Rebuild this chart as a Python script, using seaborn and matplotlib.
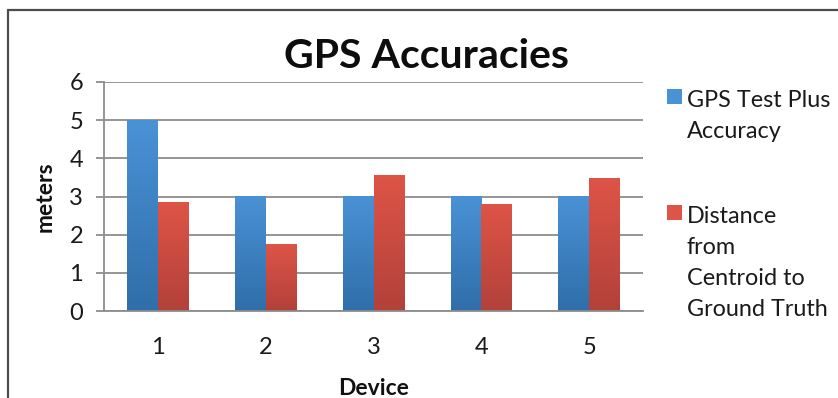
import numpy as np
import pandas as pd
import matplotlib
matplotlib.use("Agg")
import matplotlib.pyplot as plt
from matplotlib.colors import LinearSegmentedColormap
from matplotlib.patches import Rectangle
from matplotlib.lines import Line2D
import seaborn as sns

devices = ["1", "2", "3", "4", "5"]
gps_accuracy = [5, 3, 3, 3, 3]
centroid_distance = [2.83, 1.74, 3.56, 2.80, 3.48]
series_names = ["GPS Test Plus\nAccuracy", "Distance\nfrom\nCentroid to\nGround Truth"]
y_ticks = [0, 1, 2, 3, 4, 5, 6]

df = pd.DataFrame({
    "Device": devices * 2,
    "meters": gps_accuracy + centroid_distance,
    "series": [series_names[0]] * len(devices) + [series_names[1]] * len(devices),
})

sns.set_theme(style="white")
plt.rcParams["font.family"] = ["Lato", "DejaVu Sans"]

GRID = "#8c8c8c"
BLUE_TOP, BLUE_BOT = "#4a92d6", "#2f6ea9"
RED_TOP, RED_BOT = "#de5447", "#b2413a"

fig = plt.figure(figsize=(8.38, 3.98), dpi=100)
ax = fig.add_axes([104 / 838, 1 - 311 / 398, 539 / 838, 229 / 398])

sns.barplot(data=df, x="Device", y="meters", hue="series",
            palette=[BLUE_TOP, RED_TOP], width=0.57, gap=0,
            saturation=1, legend=False, ax=ax, zorder=2)

# vertical gradient fill for each bar (lighter top, darker bottom)
grad = np.linspace(0, 1, 256).reshape(-1, 1)
cmaps = [LinearSegmentedColormap.from_list("b", [BLUE_BOT, BLUE_TOP]),
         LinearSegmentedColormap.from_list("r", [RED_BOT, RED_TOP])]
bars = [p for p in ax.patches if isinstance(p, Rectangle)]
n = len(devices)
for i, bar in enumerate(bars):
    x0, w, h = bar.get_x(), bar.get_width(), bar.get_height()
    if h <= 0:
        continue
    ax.imshow(grad, extent=[x0, x0 + w, 0, h], origin="lower",
              cmap=cmaps[i // n], aspect="auto", zorder=2.5,
              interpolation="bilinear")
    bar.set_facecolor("none")
    bar.set_edgecolor("none")

ax.set_xlim(-0.5, n - 0.5)
ax.set_ylim(0, 6)
ax.set_yticks(y_ticks)
ax.yaxis.grid(True, color=GRID, linewidth=1.3)
ax.set_axisbelow(True)

for s in ["top", "right"]:
    ax.spines[s].set_visible(False)
for s in ["left", "bottom"]:
    ax.spines[s].set_color(GRID)
    ax.spines[s].set_linewidth(1.3)

# category boundaries carry the tick marks; labels sit at category centres
ax.set_xticks(np.arange(-0.5, n, 1.0), minor=True)
ax.tick_params(axis="x", which="minor", length=5.5, width=1.3, color=GRID, direction="out")
ax.tick_params(axis="x", which="major", length=0, pad=19, labelsize=17, labelcolor="#1a1a1a")
ax.tick_params(axis="y", which="major", length=6, width=1.3, color=GRID, direction="out",
               pad=9, labelsize=17, labelcolor="#1a1a1a")
ax.tick_params(left=True, bottom=True)

ax.set_xlabel("Device", fontsize=16.5, fontweight="bold", color="#111111", va="baseline")
ax.xaxis.set_label_coords(0.5, -0.367)
ax.set_ylabel("meters", fontsize=16.5, fontweight="bold", color="#111111", va="center")
ax.yaxis.set_label_coords(-0.11, 0.5)

fig.text(426.7 / 838, 1 - 68.3 / 398, "GPS Accuracies", fontsize=29.5, fontweight="bold",
         ha="center", va="baseline", color="#0d0d0d")

# legend: square swatch beside multi-line label
legend_rows = [(89, BLUE_TOP, 106.7), (205, RED_TOP, 222.7)]
for (sq_top, col, base), label in zip(legend_rows, series_names):
    fig.patches.append(Rectangle((666.7 / 838, 1 - (sq_top + 14.5) / 398), 15 / 838, 14.5 / 398,
                                 transform=fig.transFigure, facecolor=col, edgecolor="none"))
    for k, line in enumerate(label.split("\n")):
        fig.text(686.7 / 838, 1 - (base + 31 * k) / 398, line, fontsize=16.8,
                 ha="left", va="baseline", color="#1a1a1a")

# outer chart frame (left and top edges)
fig.lines.append(Line2D([7.5 / 838, 7.5 / 838], [0, 1 - 9.5 / 398], transform=fig.transFigure,
                        color="#4d4d4d", linewidth=1.6))
fig.lines.append(Line2D([7.5 / 838, 1], [1 - 9.5 / 398, 1 - 9.5 / 398], transform=fig.transFigure,
                        color="#4d4d4d", linewidth=1.6))

fig.savefig("out.png", dpi=100)
